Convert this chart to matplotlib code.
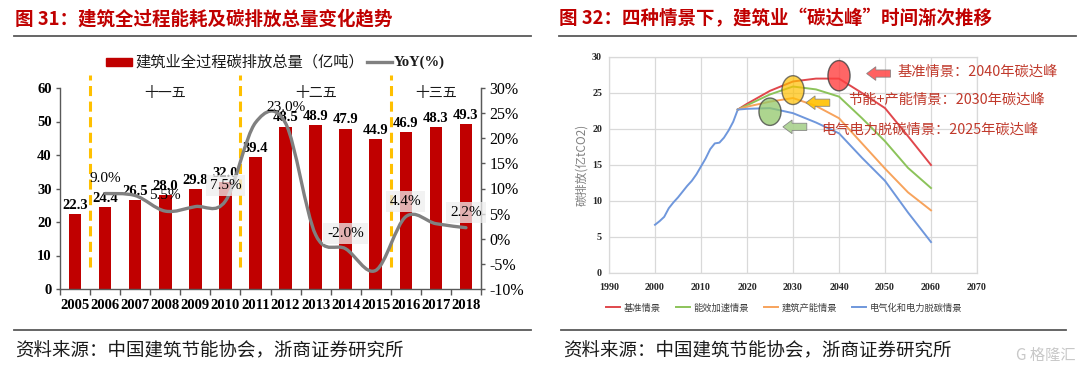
import matplotlib
matplotlib.use('Agg')
import matplotlib.pyplot as plt
from matplotlib.patches import Ellipse, Rectangle, FancyArrow, PathPatch
from matplotlib.path import Path
from matplotlib.lines import Line2D
from matplotlib.ticker import FuncFormatter
import numpy as np

# ---------------- Data: left chart ----------------
years = ['2005', '2006', '2007', '2008', '2009', '2010', '2011',
         '2012', '2013', '2014', '2015', '2016', '2017', '2018']
emissions = [22.3, 24.4, 26.5, 28.0, 29.8, 32.0, 39.4,
             48.5, 48.9, 47.9, 44.9, 46.9, 48.3, 49.3]
yoy_years = years[1:]
yoy = [9.0, 8.6, 5.5, 6.4, 7.5, 23.1, 23.0, 0.8, -2.0, -6.3, 4.4, 3.0, 2.2]
yoy_labeled = ['2006', '2008', '2010', '2012', '2014', '2016', '2018']
yoy_boxed = ['2010', '2014', '2016', '2018']
period_labels = ['十一五', '十二五', '十三五']
period_starts = ['2006', '2011', '2016']
bar_legend = '建筑业全过程碳排放总量（亿吨）'
line_legend = 'YoY(%)'

# ---------------- Data: right chart ----------------
hist_years = list(range(2000, 2019))
hist_vals = [6.7, 7.2, 7.8, 9.0, 9.8, 10.5, 11.3, 12.1, 12.8, 13.7,
             14.8, 15.9, 17.2, 18.0, 18.1, 18.8, 19.8, 21.0, 22.7]
proj_years = [2018, 2020, 2025, 2030, 2035, 2040, 2045, 2050, 2055, 2060]
base = [22.7, 23.5, 25.3, 26.6, 27.0, 27.0, 25.0, 22.9, 19.0, 15.0]
eff = [22.7, 23.3, 24.8, 25.9, 25.5, 24.5, 21.5, 18.3, 14.6, 11.8]
prod = [22.7, 23.1, 23.8, 24.3, 23.2, 21.5, 18.0, 14.5, 11.2, 8.7]
elec = [22.7, 22.8, 22.9, 22.2, 20.9, 19.4, 16.0, 12.8, 8.4, 4.3]
scen_names = ['基准情景', '能效加速情景', '建筑产能情景', '电气化和电力脱碳情景']
scen_colors = ['#e0474c', '#8cc35a', '#f7a35c', '#6f97dc']
notes = ['基准情景：2040年碳达峰', '节能+产能情景：2030年碳达峰', '电气电力脱碳情景：2025年碳达峰']
peak_years = [2040, 2030, 2025]

CJK = ['Noto Sans CJK SC', 'DejaVu Sans']
SERIF = ['Liberation Serif', 'DejaVu Serif']
plt.rcParams['font.family'] = CJK

W, H = 1080, 373
fig = plt.figure(figsize=(W / 100, H / 100), dpi=100)


def fx(px):
    return px / W


def fy(py):
    return 1 - py / H


# ---------------- Titles, rules, footers ----------------
title_red = '#c00000'
fig.text(fx(15), fy(19), '图 31：建筑全过程能耗及碳排放总量变化趋势', color=title_red,
         fontsize=13.3, fontweight='bold', family=CJK, va='center', ha='left')
fig.text(fx(559), fy(19), '图 32：四种情景下，建筑业“碳达峰”时间渐次推移', color=title_red,
         fontsize=13.3, fontweight='bold', family=CJK, va='center', ha='left')
for x0, x1, y in [(14, 531, 36), (559, 1076, 36), (14, 531, 330), (561, 1066, 330)]:
    fig.add_artist(Line2D([fx(x0), fx(x1)], [fy(y), fy(y)], color='#595959', lw=1.3,
                          transform=fig.transFigure))
fig.text(fx(15), fy(351), '资料来源：中国建筑节能协会，浙商证券研究所', fontsize=13.3,
         family=CJK, va='center', ha='left', color='#1a1a1a')
fig.text(fx(563), fy(351), '资料来源：中国建筑节能协会，浙商证券研究所', fontsize=13.3,
         family=CJK, va='center', ha='left', color='#1a1a1a')
fig.text(fx(1076), fy(355), 'G 格隆汇', fontsize=11, family=CJK, va='center', ha='right',
         color='#c8c8c8')

# ---------------- Left chart ----------------
ax = fig.add_axes([fx(60), fy(289), fx(421), (289 - 88) / H])
x = np.arange(len(years))
ax.bar(x, emissions, width=0.42, color='#c00000', zorder=2)
ax.set_xlim(-0.5, len(years) - 0.5)
ax.set_ylim(0, 60)
ax.set_yticks(range(0, 61, 10))
ax.set_xticks(x)
ax.set_xticklabels(years)
ax.set_xticks(np.arange(-0.5, len(years), 1), minor=True)
for s in ['left', 'right', 'bottom']:
    ax.spines[s].set_color('#595959')
    ax.spines[s].set_linewidth(1.0)
ax.spines['top'].set_visible(False)
ax.tick_params(axis='y', direction='out', length=3, width=1, color='#595959', pad=3)
ax.tick_params(axis='x', which='major', length=0, pad=7)
ax.tick_params(axis='x', which='minor', length=4, width=1, color='#595959', direction='out')
for lab in ax.get_xticklabels() + ax.get_yticklabels():
    lab.set_fontfamily(SERIF)
    lab.set_fontweight('bold')
    lab.set_fontsize(10.5)

for i, v in enumerate(emissions):
    ax.annotate(f'{v:.1f}', (i, v), xytext=(0, 1.5), textcoords='offset points',
                ha='center', va='bottom', fontsize=10.5, fontweight='bold',
                family=SERIF, zorder=5)

# period separators and labels
bounds = [years.index(s) - 0.5 for s in period_starts] + [len(years) - 0.5]
for b in bounds[:-1]:
    ax.plot([b, b], [6.5, 64], color='#ffc000', lw=2.2, ls=(0, (3.3, 1.8)),
            clip_on=False, zorder=3)
for k, lab in enumerate(period_labels):
    ax.text((bounds[k] + bounds[k + 1]) / 2, 58.5, lab, ha='center', va='center',
            fontsize=10, family=CJK, color='#1a1a1a')

# YoY smoothed line on twin axis
ax2 = ax.twinx()
ax2.set_ylim(-10, 30)
ax2.set_yticks(range(-10, 31, 5))
ax2.yaxis.set_major_formatter(FuncFormatter(lambda v, p: f'{int(v)}%'))
ax2.spines['top'].set_visible(False)
ax2.spines['right'].set_color('#595959')
ax2.spines['left'].set_visible(False)
ax2.spines['bottom'].set_visible(False)
ax2.tick_params(axis='y', direction='out', length=3, width=1, color='#595959', pad=3)
for lab in ax2.get_yticklabels():
    lab.set_fontfamily(SERIF)
    lab.set_fontsize(11.5)

pts = np.array([[years.index(yy), v] for yy, v in zip(yoy_years, yoy)], dtype=float)
n = len(pts)
verts = [tuple(pts[0])]
codes = [Path.MOVETO]
for i in range(n - 1):
    p0 = pts[i - 1] if i > 0 else pts[i]
    p1 = pts[i]
    p2 = pts[i + 1]
    p3 = pts[i + 2] if i + 2 < n else pts[i + 1]
    c1 = p1 + (p2 - p0) / 6
    c2 = p2 - (p3 - p1) / 6
    verts += [tuple(c1), tuple(c2), tuple(p2)]
    codes += [Path.CURVE4] * 3
ax2.add_patch(PathPatch(Path(verts, codes), fill=False, edgecolor='#808080', lw=2.4,
                        capstyle='round', zorder=4))

for yy in yoy_labeled:
    v = yoy[yoy_years.index(yy)]
    bbox = dict(boxstyle='square,pad=0.25', fc='#eeeeee', ec='none', alpha=0.75) \
        if yy in yoy_boxed else None
    ax2.annotate(f'{v:.1f}%', (years.index(yy), v), xytext=(0, 11), textcoords='offset points',
                 ha='center', va='center', fontsize=11, family=SERIF, bbox=bbox, zorder=6)

# Left legend (manual, above plot)
fig.add_artist(Rectangle((fx(106), fy(66)), fx(26), 8 / H, color='#c00000',
                         transform=fig.transFigure))
fig.text(fx(135), fy(62), bar_legend, fontsize=11, family=CJK, va='center', ha='left',
         color='#1a1a1a')
fig.add_artist(Line2D([fx(367), fx(392)], [fy(62), fy(62)], color='#808080', lw=2.4,
                      transform=fig.transFigure))
fig.text(fx(394), fy(62), line_legend, fontsize=10.5, family=SERIF, fontweight='bold',
         va='center', ha='left', color='#1a1a1a')

# ---------------- Right chart ----------------
axr = fig.add_axes([fx(609), fy(273), fx(368), (273 - 57) / H])
axr.set_xlim(1990, 2070)
axr.set_ylim(0, 30)
axr.set_xticks(range(1990, 2071, 10))
axr.set_yticks(range(0, 31, 5))
axr.grid(True, color='#d9d9d9', lw=0.9)
axr.set_axisbelow(True)
for s in axr.spines.values():
    s.set_color('#d9d9d9')
    s.set_linewidth(0.9)
axr.tick_params(length=0, labelsize=7.2, labelcolor='#262626', pad=5)
axr.tick_params(axis='x', pad=7)
for lab in axr.get_xticklabels() + axr.get_yticklabels():
    lab.set_fontfamily(SERIF)
    lab.set_fontweight('bold')
axr.set_ylabel('碳排放(亿tCO2)', fontsize=8.5, color='#808080', family=CJK, labelpad=3)

axr.plot(hist_years, hist_vals, color=scen_colors[3], lw=1.4, zorder=3)
series = [base, eff, prod, elec]
handles = []
for vals, c, name in zip(series, scen_colors, scen_names):
    h, = axr.plot(proj_years, vals, color=c, lw=1.4, label=name, zorder=3)
    handles.append(h)

leg = axr.legend(handles=handles, loc='center', bbox_to_anchor=((784 - 609) / 368, (273 - 308) / 216),
                 ncol=4, frameon=False, prop={'family': CJK, 'size': 6.7},
                 handlelength=1.5, handletextpad=0.4, columnspacing=1.6, borderaxespad=0)
for t in leg.get_texts():
    t.set_color('#404040')

# Peak markers: ellipses
ell_specs = [
    (peak_years[0], base[proj_years.index(peak_years[0])] + 0.4, 4.2, '#ff4040', 0.8),
    (peak_years[1], (eff[proj_years.index(peak_years[1])] + prod[proj_years.index(peak_years[1])]) / 2 + 0.3,
     4.0, '#ffc000', 0.7),
    (peak_years[2], elec[proj_years.index(peak_years[2])] - 0.5, 3.8, '#92c86a', 0.75),
]
for cx, cy, hgt, col, a in ell_specs:
    axr.add_patch(Ellipse((cx, cy), 4.8, hgt, facecolor=col, alpha=a, edgecolor='#3f3f3f',
                          lw=1.0, zorder=5))

# Arrows pointing left
arrow_specs = [(2051.2, 27.7, '#ff5050'), (2038.0, 23.65, '#ffc000'), (2033.0, 20.3, '#a9d18e')]
for tx, ty, col in arrow_specs:
    axr.add_patch(FancyArrow(tx, ty, -5.2, 0, width=1.0, head_width=1.9, head_length=2.0,
                             length_includes_head=True, facecolor=col, edgecolor='#7f7f7f',
                             lw=0.6, alpha=0.9, clip_on=False, zorder=6))

note_pos = [(2052.8, 28.0), (2042.0, 24.0), (2036.2, 19.9)]
for (nx, ny), txt in zip(note_pos, notes):
    axr.text(nx, ny, txt, color='#c0392b', fontsize=10.3, family=CJK, ha='left',
             va='center', clip_on=False, zorder=7)

fig.savefig('out.png', dpi=100)
